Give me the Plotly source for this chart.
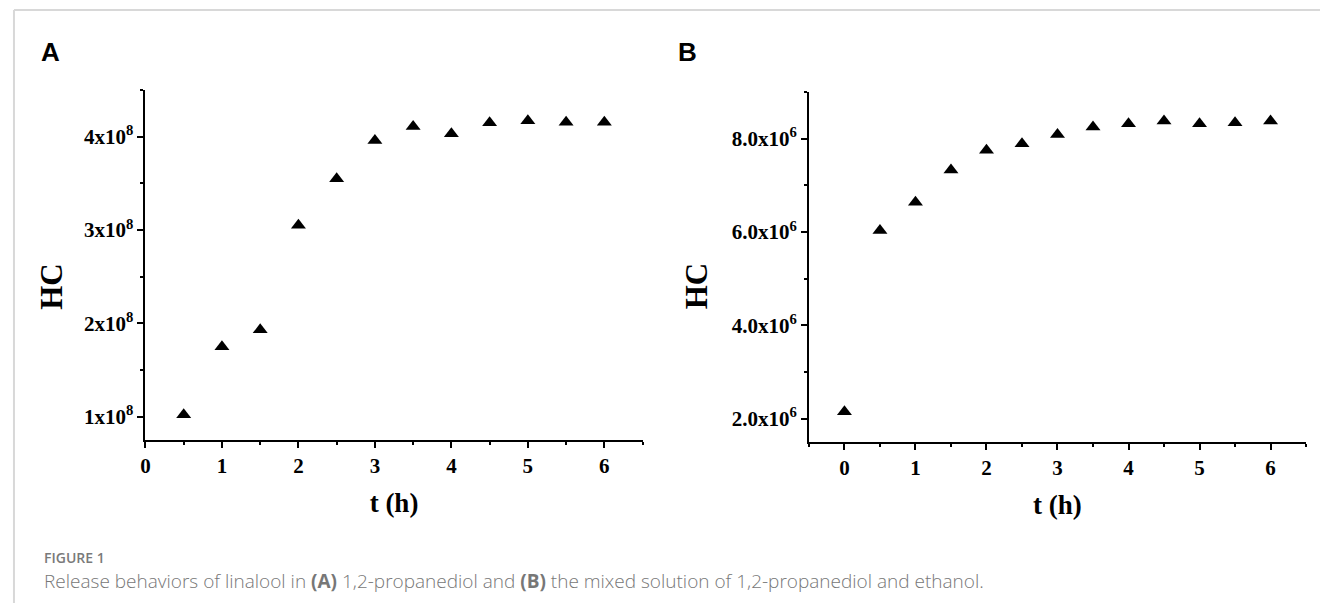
import plotly.graph_objects as go

# ---- data ----
t_a = [0.5, 1.0, 1.5, 2.0, 2.5, 3.0, 3.5, 4.0, 4.5, 5.0, 5.5, 6.0]
hc_a = [1.02e8, 1.75e8, 1.93e8, 3.05e8, 3.55e8, 3.96e8, 4.11e8, 4.03e8, 4.15e8, 4.17e8, 4.155e8, 4.155e8]

t_b = [0.0, 0.5, 1.0, 1.5, 2.0, 2.5, 3.0, 3.5, 4.0, 4.5, 5.0, 5.5, 6.0]
hc_b = [2.15e6, 6.03e6, 6.64e6, 7.33e6, 7.75e6, 7.89e6, 8.09e6, 8.25e6, 8.32e6, 8.38e6, 8.32e6, 8.34e6, 8.38e6]

x_ticks = [0, 1, 2, 3, 4, 5, 6]
x_ticklabels = ["0", "1", "2", "3", "4", "5", "6"]
ya_ticks = [1e8, 2e8, 3e8, 4e8]
ya_ticklabels = ["1x10<sup>8</sup>", "2x10<sup>8</sup>", "3x10<sup>8</sup>", "4x10<sup>8</sup>"]
yb_ticks = [2e6, 4e6, 6e6, 8e6]
yb_ticklabels = ["2.0x10<sup>6</sup>", "4.0x10<sup>6</sup>", "6.0x10<sup>6</sup>", "8.0x10<sup>6</sup>"]

x_title = "t (h)"
y_title = "HC"
caption_head = "FIGURE 1"
caption_text = ("Release behaviors of linalool in <b>(A)</b> 1,2-propanediol and "
                "<b>(B)</b> the mixed solution of 1,2-propanediol and ethanol.")

W, H = 1320, 603
serif = "Liberation Serif, Times New Roman, serif"

fig = go.Figure()
marker = dict(symbol="triangle-up", size=13, color="black", line=dict(width=0))
fig.add_trace(go.Scatter(x=t_a, y=hc_a, mode="markers", marker=marker,
                         xaxis="x", yaxis="y", showlegend=False))
fig.add_trace(go.Scatter(x=t_b, y=hc_b, mode="markers", marker=marker,
                         xaxis="x2", yaxis="y2", showlegend=False))

tickfont = dict(family=serif, size=21, color="black", weight="bold")
titlefont = dict(family=serif, size=27, color="black", weight="bold")

def xaxis(domain, rng, anchor):
    return dict(domain=domain, range=rng, anchor=anchor,
                showline=True, linecolor="black", linewidth=2,
                showgrid=False, zeroline=False,
                tickmode="array", tickvals=x_ticks, ticktext=x_ticklabels,
                ticks="outside", ticklen=6, tickwidth=2, tickcolor="black",
                tickfont=tickfont,
                minor=dict(tickmode="linear", tick0=0, dtick=0.5, ticks="outside",
                           ticklen=3, tickwidth=2, tickcolor="black"),
                title=dict(text=x_title, font=titlefont, standoff=16))

def yaxis(domain, rng, anchor, tv, tt, mdt):
    return dict(domain=domain, range=rng, anchor=anchor,
                showline=True, linecolor="black", linewidth=2,
                showgrid=False, zeroline=False,
                tickmode="array", tickvals=tv, ticktext=tt,
                ticks="outside", ticklen=6, tickwidth=2, tickcolor="black",
                tickfont=tickfont,
                minor=dict(tickmode="linear", tick0=0, dtick=mdt, ticks="outside",
                           ticklen=3, tickwidth=2, tickcolor="black"))

fig.update_layout(
    width=W, height=H,
    margin=dict(l=0, r=0, t=0, b=0),
    paper_bgcolor="white", plot_bgcolor="white",
    xaxis=xaxis([141 / W, 640 / W], [0, 6.5], "y"),
    yaxis=yaxis([1 - 440 / H, 1 - 90 / H], [0.75e8, 4.5e8], "x", ya_ticks, ya_ticklabels, 0.5e8),
    xaxis2=xaxis([807 / W, 1306 / W], [-0.5, 6.5], "y2"),
    yaxis2=yaxis([1 - 442 / H, 1 - 92 / H], [1.5e6, 9e6], "x2", yb_ticks, yb_ticklabels, 1e6),
)

# y-axis titles (placed slightly below the plot centre, as in the reference)
for px in (46, 694):
    fig.add_annotation(text=y_title, x=px / W, y=1 - 286 / H, xref="paper", yref="paper",
                       xanchor="center", yanchor="middle", showarrow=False, textangle=-90,
                       font=dict(family=serif, size=31, color="black", weight="bold"))

# panel letters
for lbl, px in (("A", 34), ("B", 674)):
    fig.add_annotation(text=lbl, x=px / W, y=1 - 52 / H, xref="paper", yref="paper",
                       xanchor="left", yanchor="middle", showarrow=False,
                       font=dict(family="Liberation Sans, Arial, sans-serif", size=26,
                                 color="black", weight="bold"))

# caption
fig.add_annotation(text=caption_head, x=37 / W, y=1 - 557 / H, xref="paper", yref="paper",
                   xanchor="left", yanchor="middle", showarrow=False,
                   font=dict(family="Open Sans, Noto Sans, sans-serif", size=14, color="#7a7a7a", weight=600))
fig.add_annotation(text=caption_text, x=37 / W, y=1 - 581 / H, xref="paper", yref="paper",
                   xanchor="left", yanchor="middle", showarrow=False,
                   font=dict(family="Open Sans, Noto Sans, sans-serif", size=19, color="#777777", weight=300))

# frame lines
fig.add_shape(type="line", xref="paper", yref="paper", x0=9 / W, x1=1.0, y0=1 - 10 / H, y1=1 - 10 / H,
              line=dict(color="#d8d8d8", width=2))
fig.add_shape(type="line", xref="paper", yref="paper", x0=9 / W, x1=9 / W, y0=0, y1=1 - 10 / H,
              line=dict(color="#d8d8d8", width=2))

fig.write_html("out.html", config={"displayModeBar": False},
               post_script="document.body.style.margin='0';")
